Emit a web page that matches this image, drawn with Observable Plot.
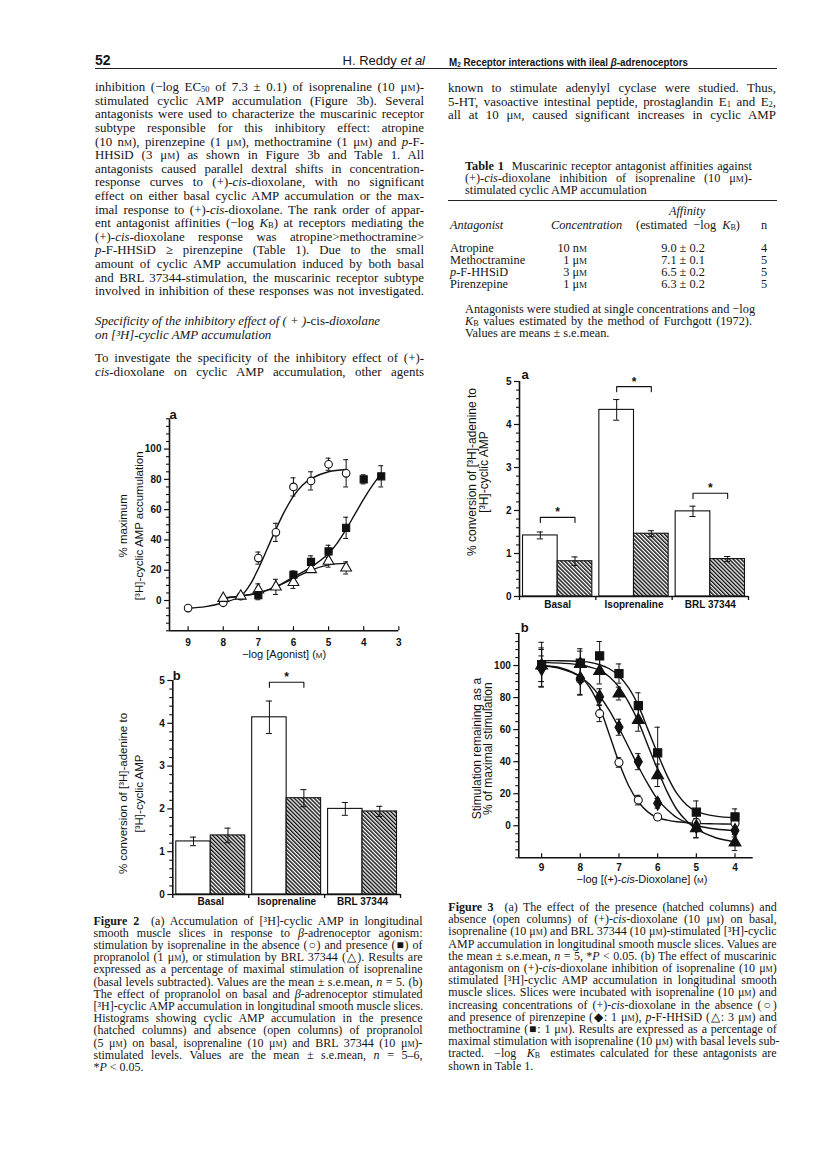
<!DOCTYPE html>
<html><head><meta charset="utf-8">
<script src="https://cdn.jsdelivr.net/npm/d3@7"></script>
<script src="https://cdn.jsdelivr.net/npm/@observablehq/plot@0.6"></script>
<style>
html,body{margin:0;padding:0;background:#fff;}
#page{position:relative;width:816px;height:1156px;overflow:hidden;background:#fff;color:#151515;font-family:"Liberation Serif","Times New Roman",serif;}
#page div{position:absolute;}
.sc{font-variant:small-caps;}
sub{font-size:0.66em;vertical-align:-0.15em;line-height:0;}
.chart svg{overflow:visible;}
</style></head><body><div id="page"></div>
<script>
// ===================== DATA =====================
// Figure 2a: % maximum [3H]-cyclic AMP accumulation vs -log[Agonist]
const agonistTicks = [9, 8, 7, 6, 5, 4, 3];
const f2aIsoX = [9, 8, 7.5, 7, 6.5, 6, 5.5, 5, 4.5];          // isoprenaline (open circles)
const f2aIsoY = [-5, -1.5, 2.8, 28, 45, 75, 79, 90, 84];
const f2aIsoE = [0, 0, 0, 4, 6, 6, 6, 4, 9];
const f2aPropX = [7, 6, 5.5, 5, 4.5, 4, 3.5];                 // + propranolol (filled squares)
const f2aPropY = [3.5, 17, 25.5, 32.5, 48, 80, 82];
const f2aPropE = [3, 2.5, 4, 4, 7, 3, 7];
const f2aBrlX = [8, 7.5, 7, 6.5, 6, 5.5, 5, 4.5];             // BRL 37344 (open triangles)
const f2aBrlY = [1.5, 3, 7, 9, 12, 20.5, 26, 21.5];
const f2aBrlE = [0, 0, 4, 5, 4, 0, 4, 4];
// fitted curves
const f2aIsoCurveX = [9, 8.5, 8, 7.5, 7.25, 7, 6.75, 6.5, 6.25, 6, 5.75, 5.5, 5, 4.5];
const f2aIsoCurveY = [-5, -4, -1.5, 3, 10, 21, 34, 47, 59, 69, 76, 80.5, 85, 86.5];
const f2aPropCurveX = [8, 7.5, 7, 6.5, 6, 5.5, 5, 4.75, 4.5, 4.25, 4, 3.75, 3.5];
const f2aPropCurveY = [1.5, 3, 5, 9, 15.5, 22, 31, 38, 47, 57, 67, 76, 84];
const f2aBrlCurveX = [8, 7.5, 7, 6.5, 6, 5.5, 5, 4.5];
const f2aBrlCurveY = [1.5, 3, 5, 9, 14.5, 20, 23.5, 24.5];

// Figure 2b: propranolol (hatched) vs absent (open)
const barGroups = ["Basal", "Isoprenaline", "BRL 37344"];
const f2bOpen = [1.24, 4.14, 2.0];
const f2bOpenErr = [0.1, 0.38, 0.15];
const f2bHatch = [1.38, 2.25, 1.94];
const f2bHatchErr = [0.17, 0.2, 0.12];
const f2bBrackets = [null, 4.96, null];

// Figure 3a: (+)-cis-dioxolane present (hatched) vs absent (open)
const f3aOpen = [1.42, 4.34, 1.98];
const f3aOpenErr = [0.08, 0.24, 0.12];
const f3aHatch = [0.82, 1.46, 0.87];
const f3aHatchErr = [0.1, 0.07, 0.06];
const f3aBrackets = [1.84, 4.88, 2.4];

// Figure 3b: stimulation remaining vs -log[(+)-cis-dioxolane]
const dioxTicks = [9, 8, 7, 6, 5, 4];
const f3bX = [9, 8, 7.5, 7, 6.5, 6, 5, 4];
const f3bCtrlY = [99, 91.5, 70, 39.5, 16, 5.5, 2, 1.5];        // open circles
const f3bCtrlE = [12, 10, 5, 3, 3, 1, 1, 1];
const f3bPirY = [98, 92, 80.5, 61.5, 40, 14, -0.5, -3];        // diamonds (pirenzepine)
const f3bPirE = [8, 10, 5, 5, 5, 3, 7, 4];
const f3bHhsY = [100, 101, 96.5, 82.5, 66, 31.5, -1.5, -10.5]; // triangles (p-F-HHSiD)
const f3bHhsE = [10, 8, 8, 4, 7, 7, 6, 5];
const f3bMetY = [100.5, 101.5, 106, 95, 75, 45.5, 8.5, 5.5];   // squares (methoctramine)
const f3bMetE = [14, 9, 9, 6, 8, 16, 7, 5];
const f3bCurveX = [9, 8.5, 8, 7.75, 7.5, 7.25, 7, 6.75, 6.5, 6.25, 6, 5.75, 5.5, 5.25, 5, 4.5, 4];
const f3bCtrlCurve = [100, 98.5, 93, 86, 74, 57, 39.5, 25, 15, 8.5, 5, 3.5, 2.5, 2, 1.5, 1.2, 1];
const f3bPirCurve = [100, 98, 93, 88, 81, 72, 61, 49, 37, 26, 16.5, 10, 5, 2, 0, -2, -3];
const f3bHhsCurve = [102, 101.5, 100.5, 99, 97, 93, 86.5, 77, 65, 50, 35, 21, 10, 3, -2, -7.5, -10];
const f3bMetCurve = [103, 103, 102.5, 102, 100.5, 98, 93.5, 86, 75, 60, 45, 31, 20, 13, 9, 6, 5];

// Table 1
const tblAntagonists = ["Atropine", "Methoctramine", "<i>p</i>-F-HHSiD", "Pirenzepine"];
const tblConc = ["10 n<span class=sc>m</span>", "1 μ<span class=sc>m</span>", "3 μ<span class=sc>m</span>", "1 μ<span class=sc>m</span>"];
const tblAffinity = ["9.0 ± 0.2", "7.1 ± 0.1", "6.5 ± 0.2", "6.3 ± 0.2"];
const tblN = ["4", "5", "5", "5"];

// ===================== PAGE TEXT =====================
const SERIF = '"Liberation Serif","Times New Roman",serif';
const SANS = '"Liberation Sans",Arial,sans-serif';
const page = document.getElementById("page");
function addDiv(html, style) {
  const d = document.createElement("div");
  d.innerHTML = html;
  Object.assign(d.style, style);
  page.appendChild(d);
  return d;
}
function lines(x, y0, lh, w, fs, arr, opts = {}) {
  arr.forEach((h, i) => {
    const left = opts.allLeft || (opts.lastLeft && i === arr.length - 1);
    addDiv(h, {left: x + "px", top: (y0 + i * lh - lh / 2 - 1) + "px", width: w + "px", height: lh + "px",
      lineHeight: lh + "px", fontSize: fs + "px", whiteSpace: "nowrap",
      textAlign: left ? "left" : "justify", textAlignLast: left ? "left" : "justify",
      fontFamily: opts.font || SERIF, fontStyle: opts.italic ? "italic" : "normal"});
  });
}
const mu = "μ<span class=sc>m</span>", nm = "n<span class=sc>m</span>";

// header
addDiv("52", {left: "95px", top: "52px", lineHeight: "16px", fontSize: "14px", fontWeight: "bold", fontFamily: SANS});
addDiv("H. Reddy <i>et al</i>", {left: "280px", width: "145px", textAlign: "right", top: "53px", lineHeight: "16px", fontSize: "13px", fontFamily: SANS});
const hdr = addDiv("M<sub>2</sub> Receptor interactions with ileal <i>β</i>-adrenoceptors", {left: "449px", top: "55px", lineHeight: "15px", fontSize: "11.5px", fontWeight: "bold", fontFamily: SANS, whiteSpace: "nowrap", transformOrigin: "0 50%"});
{ const w = hdr.getBoundingClientRect().width; hdr.style.transform = `scaleX(${239 / w})`; }
addDiv("", {left: "95px", top: "67.5px", width: "682px", height: "1.4px", background: "#222"});

// left column
lines(95, 89, 13.6, 329, 12.9, [
  `inhibition (−log EC<sub>50</sub> of 7.3 ± 0.1) of isoprenaline (10 ${mu})-`,
  `stimulated cyclic AMP accumulation (Figure 3b). Several`,
  `antagonists were used to characterize the muscarinic receptor`,
  `subtype responsible for this inhibitory effect: atropine`,
  `(10 ${nm}), pirenzepine (1 ${mu}), methoctramine (1 ${mu}) and <i>p</i>-F-`,
  `HHSiD (3 ${mu}) as shown in Figure 3b and Table 1. All`,
  `antagonists caused parallel dextral shifts in concentration-`,
  `response curves to (+)-<i>cis</i>-dioxolane, with no significant`,
  `effect on either basal cyclic AMP accumulation or the max-`,
  `imal response to (+)-<i>cis</i>-dioxolane. The rank order of appar-`,
  `ent antagonist affinities (−log <i>K</i><sub>B</sub>) at receptors mediating the`,
  `(+)-<i>cis</i>-dioxolane response was atropine&gt;methoctramine&gt;`,
  `<i>p</i>-F-HHSiD ≥ pirenzepine (Table 1). Due to the small`,
  `amount of cyclic AMP accumulation induced by both basal`,
  `and BRL 37344-stimulation, the muscarinic receptor subtype`,
  `involved in inhibition of these responses was not investigated.`
]);
lines(95, 323, 13.6, 329, 12.9, [
  `<i>Specificity of the inhibitory effect of ( + )-</i>cis<i>-dioxolane</i>`,
  `<i>on [³H]-cyclic AMP accumulation</i>`
], {allLeft: true});
lines(95, 360, 13.6, 329, 12.9, [
  `To investigate the specificity of the inhibitory effect of (+)-`,
  `<i>cis</i>-dioxolane on cyclic AMP accumulation, other agents`
]);
// right column
lines(448, 90, 13.4, 328, 12.9, [
  `known to stimulate adenylyl cyclase were studied. Thus,`,
  `5-HT, vasoactive intestinal peptide, prostaglandin E<sub>1</sub> and E<sub>2</sub>,`,
  `all at 10 ${mu}, caused significant increases in cyclic AMP`
]);
// table 1
lines(465, 166.7, 12, 287, 12.3, [
  `<b>Table 1</b>&nbsp; Muscarinic receptor antagonist affinities against`,
  `(+)-<i>cis</i>-dioxolane inhibition of isoprenaline (10 ${mu})-`,
  `stimulated cyclic AMP accumulation`
], {lastLeft: true});
addDiv("", {left: "448px", top: "200px", width: "329px", height: "1.3px", background: "#222"});
const tfs = "12.3px";
function cell(html, x, y, align, w) {
  const s = {top: (y - 7) + "px", lineHeight: "14px", fontSize: tfs, fontFamily: SERIF, whiteSpace: "nowrap"};
  if (align === "left") { s.left = x + "px"; }
  else if (align === "right") { s.left = (x - w) + "px"; s.width = w + "px"; s.textAlign = "right"; }
  else { s.left = (x - w / 2) + "px"; s.width = w + "px"; s.textAlign = "center"; }
  addDiv(html, s);
}
cell("<i>Affinity</i>", 687, 211, "center", 80);
cell("<i>Antagonist</i>", 450, 225, "left");
cell("<i>Concentration</i>", 551, 225, "left");
cell("(estimated &nbsp;−log &nbsp;<i>K</i><sub>B</sub>)", 688, 225, "center", 140);
cell("n", 764, 225, "center", 20);
tblAntagonists.forEach((a, i) => {
  const y = 248.3 + 12 * i;
  cell(a, 450, y, "left");
  cell(tblConc[i], 587, y, "right", 60);
  cell(tblAffinity[i], 683, y, "center", 80);
  cell(tblN[i], 764, y, "center", 20);
});
lines(465, 310, 12.3, 287, 12.3, [
  `Antagonists were studied at single concentrations and −log`,
  `<i>K</i><sub>B</sub> values estimated by the method of Furchgott (1972).`,
  `Values are means ± s.e.mean.`
], {lastLeft: true});

// captions
lines(93.5, 921.7, 12.2, 329, 12, [
  `<b>Figure 2</b>&nbsp; (a) Accumulation of [³H]-cyclic AMP in longitudinal`,
  `smooth muscle slices in response to <i>β</i>-adrenoceptor agonism:`,
  `stimulation by isoprenaline in the absence (○) and presence (■) of`,
  `propranolol (1 ${mu}), or stimulation by BRL 37344 (△). Results are`,
  `expressed as a percentage of maximal stimulation of isoprenaline`,
  `(basal levels subtracted). Values are the mean ± s.e.mean, <i>n</i> = 5. (b)`,
  `The effect of propranolol on basal and <i>β</i>-adrenoceptor stimulated`,
  `[³H]-cyclic AMP accumulation in longitudinal smooth muscle slices.`,
  `Histograms showing cyclic AMP accumulation in the presence`,
  `(hatched columns) and absence (open columns) of propranolol`,
  `(5 ${mu}) on basal, isoprenaline (10 ${mu}) and BRL 37344 (10 ${mu})-`,
  `stimulated levels. Values are the mean ± s.e.mean, <i>n</i> = 5–6,`,
  `*<i>P</i> &lt; 0.05.`
], {lastLeft: true});
lines(448.3, 908, 12.2, 328.4, 12, [
  `<b>Figure 3</b>&nbsp; (a) The effect of the presence (hatched columns) and`,
  `absence (open columns) of (+)-<i>cis</i>-dioxolane (10 ${mu}) on basal,`,
  `isoprenaline (10 ${mu}) and BRL 37344 (10 ${mu})-stimulated [³H]-cyclic`,
  `AMP accumulation in longitudinal smooth muscle slices. Values are`,
  `the mean ± s.e.mean, <i>n</i> = 5, *<i>P</i> &lt; 0.05. (b) The effect of muscarinic`,
  `antagonism on (+)-<i>cis</i>-dioxolane inhibition of isoprenaline (10 ${mu})`,
  `stimulated [³H]-cyclic AMP accumulation in longitudinal smooth`,
  `muscle slices. Slices were incubated with isoprenaline (10 ${mu}) and`,
  `increasing concentrations of (+)-<i>cis</i>-dioxolane in the absence (○)`,
  `and presence of pirenzepine (◆: 1 ${mu}), <i>p</i>-F-HHSiD (△: 3 ${mu}) and`,
  `methoctramine (■: 1 ${mu}). Results are expressed as a percentage of`,
  `maximal stimulation with isoprenaline (10 ${mu}) with basal levels sub-`,
  `tracted. &nbsp;−log &nbsp;<i>K</i><sub>B</sub> &nbsp;estimates calculated for these antagonists are`,
  `shown in Table 1.`
], {lastLeft: true});

// ===================== CHARTS =====================
function place(svg, left, top) {
  const w = document.createElement("div");
  w.className = "chart";
  w.style.left = left + "px"; w.style.top = top + "px";
  w.appendChild(svg);
  page.appendChild(w);
}
const baseStyle = {fontFamily: SANS, fontSize: "10px", color: "#111", background: "transparent", overflow: "visible"};
function hatchDefs(id) {
  return () => {
    const defs = d3.create("svg:defs");
    const p = defs.append("pattern").attr("id", id).attr("patternUnits", "userSpaceOnUse")
      .attr("width", 2.8).attr("height", 2.8).attr("patternTransform", "rotate(-45)");
    p.append("rect").attr("width", 2.8).attr("height", 2.8).attr("fill", "#fff");
    p.append("line").attr("x1", 0.7).attr("y1", 0).attr("x2", 0.7).attr("y2", 2.8).attr("stroke", "#111").attr("stroke-width", 1.5);
    return defs.node();
  };
}
function yLabelMark(text, o) {
  return Plot.text([text], {text: d => d, frameAnchor: "left", rotate: -90, dx: o.dx, dy: o.dy || 0,
    fontSize: o.size, lineHeight: o.lh, textAnchor: "middle", lineAnchor: "middle", fill: "#111"});
}

function doseChart(c) {
  const cap = 0.07;
  const marks = [];
  for (const s of c.series) {
    marks.push(Plot.line(s.cx.map((x, i) => ({x, y: s.cy[i]})), {x: "x", y: "y", curve: "catmull-rom", stroke: "#111", strokeWidth: 1.4}));
  }
  for (const s of c.series) {
    const pts = s.x.map((x, i) => ({x, y: s.y[i], e: s.e[i]})).filter(d => d.e > 0);
    marks.push(Plot.ruleX(pts, {x: "x", y1: d => d.y - d.e, y2: d => d.y + d.e, stroke: "#111", strokeWidth: 1}));
    marks.push(Plot.ruleY(pts, {y: d => d.y + d.e, x1: d => d.x - cap, x2: d => d.x + cap, stroke: "#111", strokeWidth: 1}));
    marks.push(Plot.ruleY(pts, {y: d => d.y - d.e, x1: d => d.x - cap, x2: d => d.x + cap, stroke: "#111", strokeWidth: 1}));
  }
  for (const s of c.series) {
    marks.push(Plot.dot(s.x.map((x, i) => ({x, y: s.y[i]})), {x: "x", y: "y", symbol: s.symbol, r: s.r, fill: s.fill, stroke: "#111", strokeWidth: 1.1}));
  }
  const [x0, x1] = c.xDomain, [y0, y1] = c.yDomain;
  marks.push(
    Plot.ruleX([x0], {y1: y0, y2: y1, stroke: "#111", strokeWidth: 1.6}),
    Plot.ruleY([y0], {x1: x0, x2: x1, stroke: "#111", strokeWidth: 1.6}),
    Plot.axisY(c.yMajor, {tickSize: 5, tickPadding: 3, fontWeight: "bold", fontSize: c.tickSize, label: null, strokeWidth: 1.2}),
    Plot.axisY(c.yMinor, {tickSize: 3, tickFormat: () => "", label: null, strokeWidth: 1.1}),
    Plot.axisX(c.xTicks, {tickSize: -4, tickPadding: c.xTickPad || 11, fontWeight: "bold", fontSize: c.tickSize, label: null, strokeWidth: 1.2}),
    Plot.text([c.xLabel], {text: d => d, frameAnchor: "bottom", dy: c.xLabelDy, dx: c.xLabelDx || 0, fontSize: c.xLabelSize, fill: "#111"}),
    yLabelMark(c.yLabel, c.yLab),
    Plot.text([c.panel], {text: d => d, frameAnchor: "top-left", dx: c.panelDx, dy: c.panelDy, fontSize: 13, fontWeight: "bold"})
  );
  const svg = Plot.plot({
    width: c.width, height: c.height,
    marginLeft: c.m[0], marginRight: c.m[1], marginTop: c.m[2], marginBottom: c.m[3],
    x: {domain: c.xDomain}, y: {domain: c.yDomain},
    style: baseStyle, marks
  });
  if (c.xLabelSvg) svg.querySelectorAll("text").forEach(t => { if (t.textContent === c.xLabel) t.innerHTML = c.xLabelSvg; });
  return svg;
}

function barChart(c) {
  const n = c.groups.length;
  const oL = 0.046, mid = 0.5, hR = 0.954, cap = 0.04;
  const openD = c.groups.map((g, i) => ({i, g, v: c.openV[i], e: c.openE[i], c: i + (oL + mid) / 2}));
  const hatchD = c.groups.map((g, i) => ({i, g, v: c.hatchV[i], e: c.hatchE[i], c: i + (mid + hR) / 2}));
  const all = openD.concat(hatchD);
  const brk = c.brackets.map((h, i) => ({i, h})).filter(b => b.h != null);
  const brkPts = brk.flatMap(b => [
    {i: b.i, x: openD[b.i].c, y: b.h - c.drop}, {i: b.i, x: openD[b.i].c, y: b.h},
    {i: b.i, x: hatchD[b.i].c, y: b.h}, {i: b.i, x: hatchD[b.i].c, y: b.h - c.drop}]);
  const minor = d3.range(0, 26).map(k => k / 5).filter(v => Math.abs(v - Math.round(v)) > 1e-6);
  const marks = [
    hatchDefs(c.id),
    Plot.rect(openD, {x1: d => d.i + oL, x2: d => d.i + mid, y1: 0, y2: "v", fill: "#fff", stroke: "#111", strokeWidth: 1.1}),
    Plot.rect(hatchD, {x1: d => d.i + mid, x2: d => d.i + hR, y1: 0, y2: "v", fill: `url(#${c.id})`, stroke: "#111", strokeWidth: 1.1}),
    Plot.ruleX(all, {x: "c", y1: d => d.v - d.e, y2: d => d.v + d.e, stroke: "#111", strokeWidth: 1}),
    Plot.ruleY(all, {y: d => d.v + d.e, x1: d => d.c - cap, x2: d => d.c + cap, stroke: "#111", strokeWidth: 1}),
    Plot.ruleY(all, {y: d => d.v - d.e, x1: d => d.c - cap, x2: d => d.c + cap, stroke: "#111", strokeWidth: 1}),
    Plot.line(brkPts, {x: "x", y: "y", z: "i", stroke: "#111", strokeWidth: 1.1}),
    Plot.text(brk, {x: d => d.i + 0.5, y: "h", text: () => "*", dy: -5, fontSize: 12, fontWeight: "bold"}),
    Plot.ruleX([0], {y1: 0, y2: 5, stroke: "#111", strokeWidth: 1.6}),
    Plot.ruleY([0], {x1: 0, x2: n, stroke: "#111", strokeWidth: 1.6}),
    Plot.axisY([0, 1, 2, 3, 4, 5], {tickSize: 5, tickPadding: 3, fontWeight: "bold", fontSize: c.tickSize, label: null, strokeWidth: 1.2}),
    Plot.axisY(minor, {tickSize: 3, tickFormat: () => "", label: null, strokeWidth: 1.1}),
    Plot.axisX(d3.range(0, n + 1), {tickSize: 4, tickFormat: () => "", label: null, strokeWidth: 1.3}),
    Plot.text(c.groups, {x: (d, i) => i + 0.5, text: d => d, frameAnchor: "bottom", dy: c.catDy, fontSize: c.tickSize, fontWeight: "bold"}),
    yLabelMark(c.yLabel, c.yLab),
    Plot.text([c.panel], {text: d => d, frameAnchor: "top-left", dx: c.panelDx, dy: c.panelDy, fontSize: 13, fontWeight: "bold"})
  ];
  return Plot.plot({
    width: c.width, height: c.height,
    marginLeft: c.m[0], marginRight: c.m[1], marginTop: c.m[2], marginBottom: c.m[3],
    x: {domain: [0, n]}, y: {domain: [0, 5]},
    style: baseStyle, marks
  });
}

const minor5 = d3.range(-20, 121, 5).filter(v => v % 20 !== 0 || v === -20 || v === 120);
const major20 = [0, 20, 40, 60, 80, 100];

// Figure 2a
place(doseChart({
  width: 360, height: 272, m: [109, 21.7, 20.3, 39.7],
  xDomain: [9.53, 3], yDomain: [-20, 120], xTicks: agonistTicks, yMajor: major20, yMinor: minor5, tickSize: 10,
  xTickPad: 12,
  series: [
    {x: f2aIsoX, y: f2aIsoY, e: f2aIsoE, cx: f2aIsoCurveX, cy: f2aIsoCurveY, symbol: "circle", r: 3.8, fill: "#fff"},
    {x: f2aBrlX, y: f2aBrlY, e: f2aBrlE, cx: f2aBrlCurveX, cy: f2aBrlCurveY, symbol: "triangle", r: 4, fill: "#fff"},
    {x: f2aPropX, y: f2aPropY, e: f2aPropE, cx: f2aPropCurveX, cy: f2aPropCurveY, symbol: "square", r: 4, fill: "#111"}
  ],
  xLabel: "−log [Agonist] (M)", xLabelSvg: "−log [Agonist] (<tspan font-size='8'>M</tspan>)", xLabelDy: 27, xLabelSize: 11,
  yLabel: "% maximum\n[³H]-cyclic AMP accumulation", yLab: {dx: -39.3, dy: 1, size: 11.5, lh: 1.38},
  panel: "a", panelDx: 0, panelDy: -9
}), 60, 398);

// Figure 2b
place(barChart({
  id: "hatch2b", width: 360, height: 262, m: [112.3, 20, 20, 28],
  groups: barGroups, openV: f2bOpen, openE: f2bOpenErr, hatchV: f2bHatch, hatchE: f2bHatchErr, brackets: f2bBrackets,
  drop: 0.12, tickSize: 10, catDy: 10,
  yLabel: "% conversion of [³H]-adenine to\n[³H]-cyclic AMP", yLab: {dx: -43, dy: 6, size: 11.5, lh: 1.38},
  panel: "b", panelDx: 0, panelDy: -10
}), 60, 660);

// Figure 3a
place(barChart({
  id: "hatch3a", width: 340, height: 260, m: [89, 22, 21, 24],
  groups: barGroups, openV: f3aOpen, openE: f3aOpenErr, hatchV: f3aHatch, hatchE: f3aHatchErr, brackets: f3aBrackets,
  drop: 0.12, tickSize: 10, catDy: 11,
  yLabel: "% conversion of [³H]-adenine to\n[³H]-cyclic AMP", yLab: {dx: -41, dy: -17, size: 12, lh: 1.0},
  panel: "a", panelDx: 2, panelDy: -12
}), 430, 360);

// Figure 3b
place(doseChart({
  width: 340, height: 280, m: [88.3, 17.3, 21, 34.7],
  xDomain: [9.59, 3.53], yDomain: [-20, 120], xTicks: dioxTicks, yMajor: major20, yMinor: minor5, tickSize: 10,
  xTickPad: 10,
  series: [
    {x: f3bX, y: f3bCtrlY, e: f3bCtrlE, cx: f3bCurveX, cy: f3bCtrlCurve, symbol: "circle", r: 4, fill: "#fff"},
    {x: f3bX, y: f3bPirY, e: f3bPirE, cx: f3bCurveX, cy: f3bPirCurve, symbol: "diamond", r: 4.2, fill: "#111"},
    {x: f3bX, y: f3bHhsY, e: f3bHhsE, cx: f3bCurveX, cy: f3bHhsCurve, symbol: "triangle", r: 4.4, fill: "#111"},
    {x: f3bX, y: f3bMetY, e: f3bMetE, cx: f3bCurveX, cy: f3bMetCurve, symbol: "square", r: 4.6, fill: "#111"}
  ],
  xLabel: "−log [(+)-cis-Dioxolane] (M)",
  xLabelSvg: "−log [(+)-<tspan font-style='italic'>cis</tspan>-Dioxolane] (<tspan font-size='8'>M</tspan>)",
  xLabelDy: 25, xLabelDx: 6, xLabelSize: 11,
  yLabel: "Stimulation remaining as a\n% of maximal stimulation", yLab: {dx: -36, dy: 3, size: 12, lh: 0.98},
  panel: "b", panelDx: 2, panelDy: -11
}), 430, 612);
</script></body></html>
